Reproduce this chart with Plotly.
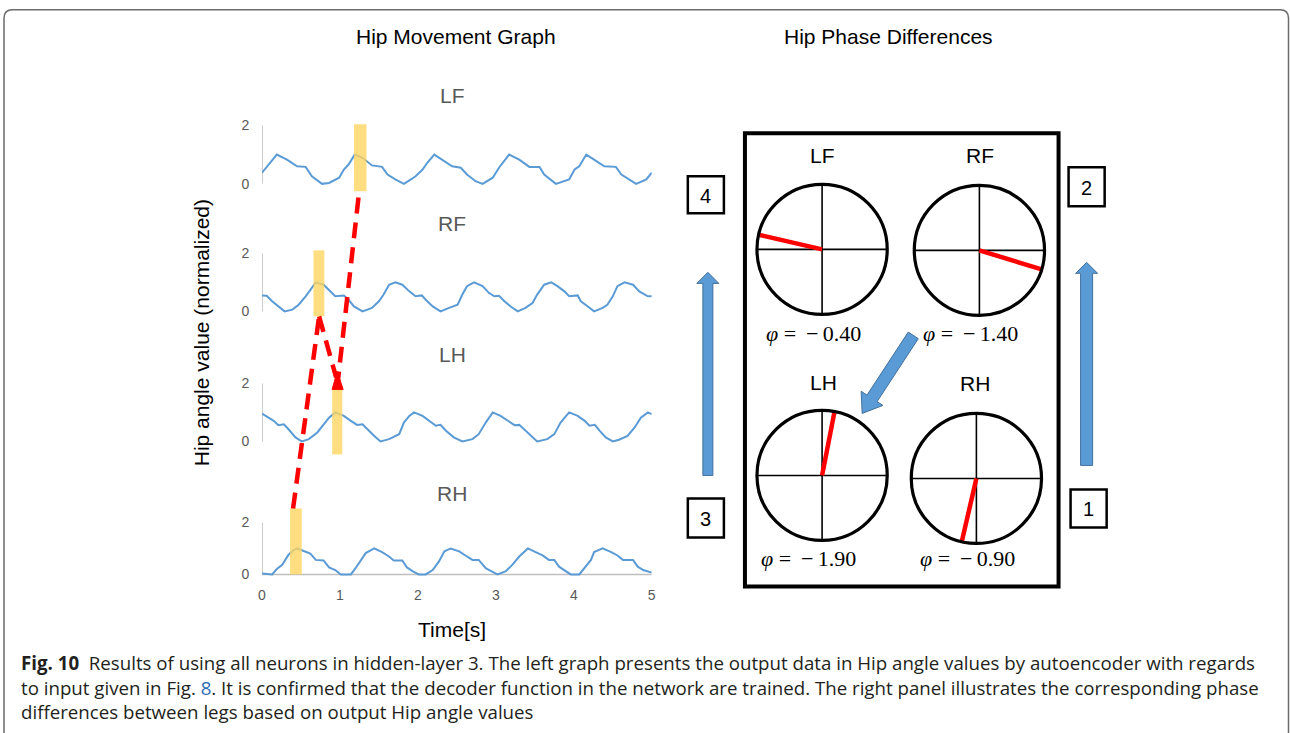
import math
import plotly.graph_objects as go

W, H = 1290, 733

# ---------------- data ----------------
LEGS = ["LF", "RF", "LH", "RH"]

lf_time = [0.00, 0.19, 0.32, 0.45, 0.56, 0.64, 0.77, 0.86, 0.99, 1.05, 1.11, 1.19, 1.29, 1.41, 1.54, 1.61,
           1.71, 1.82, 1.91, 1.97, 2.06, 2.12, 2.21, 2.31, 2.44, 2.55, 2.63, 2.74, 2.83, 2.96, 3.04, 3.17,
           3.30, 3.43, 3.56, 3.62, 3.77, 3.94, 4.01, 4.07, 4.16, 4.26, 4.39, 4.54, 4.61, 4.80, 4.93, 5.00]
lf_value = [0.38, 1.00, 0.83, 0.60, 0.58, 0.26, 0.00, 0.03, 0.21, 0.49, 0.66, 1.00, 0.89, 0.63, 0.58, 0.32,
            0.15, 0.00, 0.15, 0.26, 0.49, 0.72, 1.00, 0.83, 0.60, 0.55, 0.32, 0.09, 0.00, 0.21, 0.55, 1.00,
            0.83, 0.58, 0.58, 0.32, 0.00, 0.15, 0.49, 0.60, 1.00, 0.83, 0.60, 0.58, 0.32, 0.00, 0.15, 0.38]

rf_time = [0.00, 0.06, 0.13, 0.21, 0.29, 0.39, 0.47, 0.56, 0.62, 0.69, 0.79, 0.88, 0.94, 1.05, 1.11, 1.18,
           1.29, 1.41, 1.50, 1.56, 1.63, 1.71, 1.80, 1.89, 1.97, 2.05, 2.10, 2.19, 2.29, 2.40, 2.51, 2.57,
           2.63, 2.72, 2.83, 2.91, 2.98, 3.04, 3.11, 3.19, 3.28, 3.38, 3.47, 3.53, 3.62, 3.71, 3.79, 3.88,
           3.94, 4.05, 4.09, 4.18, 4.26, 4.37, 4.43, 4.50, 4.56, 4.65, 4.76, 4.84, 4.95, 5.00]
rf_value = [0.55, 0.54, 0.35, 0.17, 0.00, 0.06, 0.23, 0.52, 0.75, 1.00, 0.92, 0.69, 0.52, 0.55, 0.40, 0.17,
            0.00, 0.12, 0.35, 0.58, 0.92, 1.00, 0.92, 0.69, 0.52, 0.55, 0.40, 0.17, 0.00, 0.12, 0.23, 0.58,
            0.87, 1.00, 0.87, 0.64, 0.52, 0.54, 0.35, 0.17, 0.00, 0.12, 0.29, 0.58, 0.92, 1.00, 0.87, 0.69,
            0.52, 0.55, 0.35, 0.17, 0.00, 0.12, 0.23, 0.52, 0.87, 1.00, 0.92, 0.69, 0.52, 0.52]

lh_time = [0.00, 0.09, 0.15, 0.21, 0.28, 0.34, 0.43, 0.51, 0.60, 0.71, 0.79, 0.86, 0.94, 1.05, 1.14, 1.22,
           1.29, 1.35, 1.44, 1.52, 1.63, 1.76, 1.82, 1.89, 1.95, 2.06, 2.14, 2.23, 2.29, 2.36, 2.46, 2.57,
           2.70, 2.78, 2.87, 2.96, 3.06, 3.15, 3.24, 3.30, 3.36, 3.45, 3.53, 3.66, 3.75, 3.83, 3.94, 4.05,
           4.14, 4.20, 4.27, 4.33, 4.41, 4.50, 4.58, 4.69, 4.78, 4.86, 4.95, 5.00]
lh_value = [0.96, 0.82, 0.71, 0.56, 0.59, 0.42, 0.14, 0.00, 0.08, 0.31, 0.59, 0.82, 1.00, 0.88, 0.71, 0.57,
            0.59, 0.42, 0.19, 0.00, 0.08, 0.25, 0.65, 0.88, 1.00, 0.88, 0.71, 0.54, 0.57, 0.37, 0.14, 0.00,
            0.08, 0.25, 0.65, 1.00, 0.88, 0.71, 0.56, 0.57, 0.42, 0.19, 0.00, 0.08, 0.25, 0.65, 1.00, 0.88,
            0.71, 0.54, 0.57, 0.37, 0.14, 0.00, 0.06, 0.19, 0.48, 0.82, 1.00, 0.94]

rh_time = [0.00, 0.13, 0.19, 0.26, 0.34, 0.41, 0.45, 0.56, 0.62, 0.69, 0.79, 0.86, 0.94, 1.01, 1.14, 1.20,
           1.26, 1.33, 1.44, 1.54, 1.63, 1.69, 1.80, 1.86, 1.93, 2.01, 2.10, 2.19, 2.27, 2.34, 2.42, 2.53,
           2.61, 2.70, 2.78, 2.87, 2.94, 3.02, 3.13, 3.21, 3.30, 3.41, 3.51, 3.60, 3.68, 3.75, 3.81, 3.90,
           3.96, 4.07, 4.13, 4.22, 4.26, 4.37, 4.48, 4.56, 4.63, 4.76, 4.82, 4.89, 5.00]
rh_value = [0.04, 0.00, 0.21, 0.37, 0.76, 0.95, 1.00, 0.89, 0.80, 0.56, 0.54, 0.27, 0.17, 0.00, 0.00, 0.24,
            0.50, 0.82, 1.00, 0.86, 0.69, 0.54, 0.54, 0.27, 0.13, 0.00, 0.00, 0.17, 0.50, 0.89, 1.00, 0.89,
            0.73, 0.56, 0.56, 0.24, 0.13, 0.00, 0.13, 0.37, 0.69, 1.00, 0.86, 0.73, 0.56, 0.56, 0.30, 0.13,
            0.00, 0.00, 0.21, 0.56, 0.86, 1.00, 0.86, 0.73, 0.56, 0.56, 0.30, 0.17, 0.07]

highlight_start = [1.18, 0.66, 0.90, 0.36]   # s
highlight_end = [1.34, 0.80, 1.03, 0.51]     # s

x_ticks = [0, 1, 2, 3, 4, 5]
y_ticks = [0, 2]

phase_labels = ["−\u20090.40", "−\u20091.40", "−\u20091.90", "−\u20090.90"]
pointer_angle_deg = [167, 343, 79, 257]
box_numbers = ["4", "2", "3", "1"]

caption_lines = [
    "<b>Fig. 10</b>&nbsp;&nbsp;Results of using all neurons in hidden-layer 3. The left graph presents the output data in Hip angle values by autoencoder with regards",
    "to input given in Fig.\u00a0<span style='color:#2f6db5'>8</span>. It is confirmed that the decoder function in the network are trained. The right panel illustrates the corresponding phase",
    "differences between legs based on output Hip angle values",
]

series = [(lf_time, lf_value), (rf_time, rf_value), (lh_time, lh_value), (rh_time, rh_value)]

# ---------------- layout geometry (pixels) ----------------
SANS = "Liberation Sans, Arial, sans-serif"
SERIF = "Liberation Serif, Times New Roman, serif"
CAP = "Open Sans, Noto Sans, sans-serif"
GRAY_TXT = "#595959"
AXIS_GRAY = "#BFBFBF"
BLUE = "#5B9BD5"

# observed on-screen extent of the plotting area (calibration)
AX0, AX1 = 5.5, 1285.0
AY0, AY1 = 7.7, 727.5

X0_PX, X5_PX = 263, 652
panel_y = [(184.5, 126), (312, 254), (442, 384), (575, 523)]
title_y = [96, 224, 355, 494]
hl_py = [(125, 192), (251, 317), (388, 455), (509, 575)]
Y_LO, Y_HI = -0.06, 2.03

fig = go.Figure()
layout = dict(
    width=W, height=H, autosize=False,
    margin=dict(l=0, r=0, t=0, b=0, pad=0),
    paper_bgcolor="white", plot_bgcolor="rgba(0,0,0,0)",
    showlegend=False,
)


def px_x(px):
    return (px - AX0) / (AX1 - AX0)


def px_y(py):
    return 1 - (py - AY0) / (AY1 - AY0)


shapes = []
annotations = []

# overlay axis in screen-pixel coordinates (axis 9)
layout["xaxis9"] = dict(domain=[0, 1], range=[AX0, AX1], visible=False, fixedrange=True, anchor="y9")
layout["yaxis9"] = dict(domain=[0, 1], range=[AY1, AY0], visible=False, fixedrange=True, anchor="x9")
fig.add_trace(go.Scatter(x=[], y=[], xaxis="x9", yaxis="y9", hoverinfo="skip"))


def P(**kw):
    d = dict(xref="x9", yref="y9")
    d.update(kw)
    return d


# ---------------- left: four time-series panels ----------------
for i, (leg, (tt, vv)) in enumerate(zip(LEGS, series)):
    n = i + 1
    p0, p2 = panel_y[i]
    s = (p0 - p2) / 2.0
    dom_bot = p0 - Y_LO * s
    dom_top = p2 - (Y_HI - 2) * s
    xa = "xaxis" if n == 1 else f"xaxis{n}"
    ya = "yaxis" if n == 1 else f"yaxis{n}"
    xr = "x" if n == 1 else f"x{n}"
    yr = "y" if n == 1 else f"y{n}"
    is_last = (i == 3)
    layout[xa] = dict(
        domain=[px_x(X0_PX), px_x(X5_PX)], range=[0, 5], anchor=yr,
        showgrid=False, zeroline=False, showline=False,
        showticklabels=is_last, tickvals=x_ticks, ticks="outside", ticklen=6,
        tickcolor="rgba(0,0,0,0)", tickfont=dict(family=SANS, size=14, color=GRAY_TXT),
        fixedrange=True,
    )
    layout[ya] = dict(
        domain=[px_y(dom_bot), px_y(dom_top)], range=[Y_LO, Y_HI], anchor=xr,
        showgrid=False, zeroline=False, showline=False,
        tickvals=y_ticks, ticks="outside", ticklen=9, tickcolor="rgba(0,0,0,0)",
        tickfont=dict(family=SANS, size=14, color=GRAY_TXT), fixedrange=True,
    )
    fig.add_trace(go.Scatter(x=tt, y=vv, mode="lines", xaxis=xr, yaxis=yr,
                             line=dict(color=BLUE, width=2), hoverinfo="skip"))
    shapes.append(dict(type="line", xref=xr, yref=yr, x0=0, x1=0, y0=0, y1=2,
                       line=dict(color=AXIS_GRAY, width=1.6), layer="below"))
    if is_last:
        shapes.append(dict(type="line", xref=xr, yref=yr, x0=0, x1=5, y0=0, y1=0,
                           line=dict(color=AXIS_GRAY, width=1.6), layer="below"))
    shapes.append(dict(type="rect", xref=xr, yref="paper", x0=highlight_start[i], x1=highlight_end[i],
                       y0=px_y(hl_py[i][1]), y1=px_y(hl_py[i][0]),
                       fillcolor="rgba(255,213,94,0.78)", line=dict(width=0), layer="above"))
    annotations.append(P(x=453, y=title_y[i], text=leg, showarrow=False,
                         font=dict(family=SANS, size=21, color=GRAY_TXT)))

# red dashed connectors RH -> RF -> LH -> LF
RED_DASH = dict(color="#FF0000", width=4.5, dash="16px,9px")
shapes.append(P(type="line", x0=294, y0=509, x1=320, y1=317, line=RED_DASH, layer="above"))
shapes.append(P(type="line", x0=320, y0=317, x1=337, y1=378, line=RED_DASH, layer="above"))
shapes.append(P(type="line", x0=338, y0=388, x1=360, y1=192, line=RED_DASH, layer="above"))
shapes.append(P(type="path", path="M 338,372 L 333,390 L 344,390 Z",
                fillcolor="#FF0000", line=dict(color="#FF0000", width=1), layer="above"))

# titles
annotations.append(P(x=457, y=37, text="Hip Movement Graph", showarrow=False,
                     font=dict(family=SANS, size=21, color="black")))
annotations.append(P(x=888, y=37, text="Hip Phase Differences", showarrow=False,
                     font=dict(family=SANS, size=21, color="black")))
annotations.append(P(x=203, y=333, text="Hip angle value (normalized)", textangle=-90,
                     showarrow=False, font=dict(family=SANS, size=21, color="black")))
annotations.append(P(x=453, y=630, text="Time[s]", showarrow=False,
                     font=dict(family=SANS, size=21, color="black")))

# ---------------- right: phase circles ----------------
centers = [(822, 250), (979, 251), (822, 476), (976, 479)]
R_PX = 65
HALF = 76
label_pos = [(822, 156), (980, 156), (823, 383), (975, 384)]
phi_pos = [(813, 334), (970, 334), (808, 559), (967, 559)]

for j, (cx, cy) in enumerate(centers):
    n = 5 + j
    xr, yr = f"x{n}", f"y{n}"
    layout[f"xaxis{n}"] = dict(domain=[px_x(cx - HALF), px_x(cx + HALF)],
                               range=[-HALF / R_PX, HALF / R_PX],
                               visible=False, fixedrange=True, anchor=yr)
    layout[f"yaxis{n}"] = dict(domain=[px_y(cy + HALF), px_y(cy - HALF)],
                               range=[-HALF / R_PX, HALF / R_PX],
                               visible=False, fixedrange=True, anchor=xr)
    shapes.append(dict(type="line", xref=xr, yref=yr, x0=-1, x1=1, y0=0, y1=0,
                       line=dict(color="black", width=1.6), layer="below"))
    shapes.append(dict(type="line", xref=xr, yref=yr, x0=0, x1=0, y0=-1, y1=1,
                       line=dict(color="black", width=1.6), layer="below"))
    shapes.append(dict(type="circle", xref=xr, yref=yr, x0=-1, x1=1, y0=-1, y1=1,
                       line=dict(color="black", width=3.2), layer="above"))
    a = math.radians(pointer_angle_deg[j])
    fig.add_trace(go.Scatter(x=[0, math.cos(a)], y=[0, math.sin(a)], mode="lines",
                             xaxis=xr, yaxis=yr, line=dict(color="#FF0000", width=4.5),
                             hoverinfo="skip"))
    annotations.append(P(x=label_pos[j][0], y=label_pos[j][1], text=LEGS[j], showarrow=False,
                         font=dict(family=SANS, size=21, color="black")))
    annotations.append(P(x=phi_pos[j][0], y=phi_pos[j][1],
                         text=f"<i>φ</i> = \u2009{phase_labels[j]}", showarrow=False,
                         font=dict(family=SERIF, size=22, color="black")))

# big frame
shapes.append(P(type="rect", x0=745, y0=134, x1=1058, y1=587,
                line=dict(color="black", width=4), fillcolor="rgba(0,0,0,0)", layer="below"))

# number boxes
boxes = [(688, 177, 724, 214), (1068, 168, 1104, 207), (688, 499, 724, 538), (1070, 490, 1106, 528)]
for (bx0, by0, bx1, by1), num in zip(boxes, box_numbers):
    shapes.append(P(type="rect", x0=bx0, y0=by0, x1=bx1, y1=by1,
                    line=dict(color="black", width=2.5), fillcolor="white", layer="above"))
    annotations.append(P(x=(bx0 + bx1) / 2, y=(by0 + by1) / 2 + 1, text=num, showarrow=False,
                         font=dict(family=SANS, size=20, color="black")))


# blue arrows
def arrow_path(tail, tip, half_w, head_half, head_len):
    tx, ty = tail
    px, py = tip
    dx, dy = px - tx, py - ty
    L = math.hypot(dx, dy)
    ux, uy = dx / L, dy / L
    nx, ny = -uy, ux
    bx, by = px - head_len * ux, py - head_len * uy
    pts = [(tx + half_w * nx, ty + half_w * ny), (bx + half_w * nx, by + half_w * ny),
           (bx + head_half * nx, by + head_half * ny), (px, py),
           (bx - head_half * nx, by - head_half * ny), (bx - half_w * nx, by - half_w * ny),
           (tx - half_w * nx, ty - half_w * ny)]
    return "M " + " L ".join(f"{x:.1f},{y:.1f}" for x, y in pts) + " Z"


for tail, tip, hw, hh, hl in [((708, 476), (708, 273), 5, 11, 11),
                              ((1086, 466), (1086, 263), 6, 11, 11),
                              ((913, 336), (862, 414), 6, 13, 18)]:
    shapes.append(P(type="path", path=arrow_path(tail, tip, hw, hh, hl),
                    fillcolor=BLUE, line=dict(color="#41719C", width=1), layer="above"))


# outer rounded frame (paper coordinates so that it is not clipped)
def pp(x, y):
    return f"{px_x(x):.5f},{px_y(y):.5f}"


frame_path = (f"M {pp(5.5, 745)} L {pp(5.5, 19)} Q {pp(5.5, 10.5)} {pp(14, 10.5)} "
              f"L {pp(1279, 10.5)} Q {pp(1287.5, 10.5)} {pp(1287.5, 19)} L {pp(1287.5, 745)}")
shapes.append(dict(type="path", xref="paper", yref="paper", path=frame_path,
                   line=dict(color="#6b6b6b", width=1.5), layer="above"))

# caption
cap_y = [663, 688, 712]
for txt, cy in zip(caption_lines, cap_y):
    annotations.append(P(x=20, y=cy, text=txt, showarrow=False, xanchor="left",
                         font=dict(family=CAP, size=18.7, color="#231f20")))

layout["shapes"] = shapes
layout["annotations"] = annotations
fig.update_layout(**layout)
fig.write_html("out.html")
